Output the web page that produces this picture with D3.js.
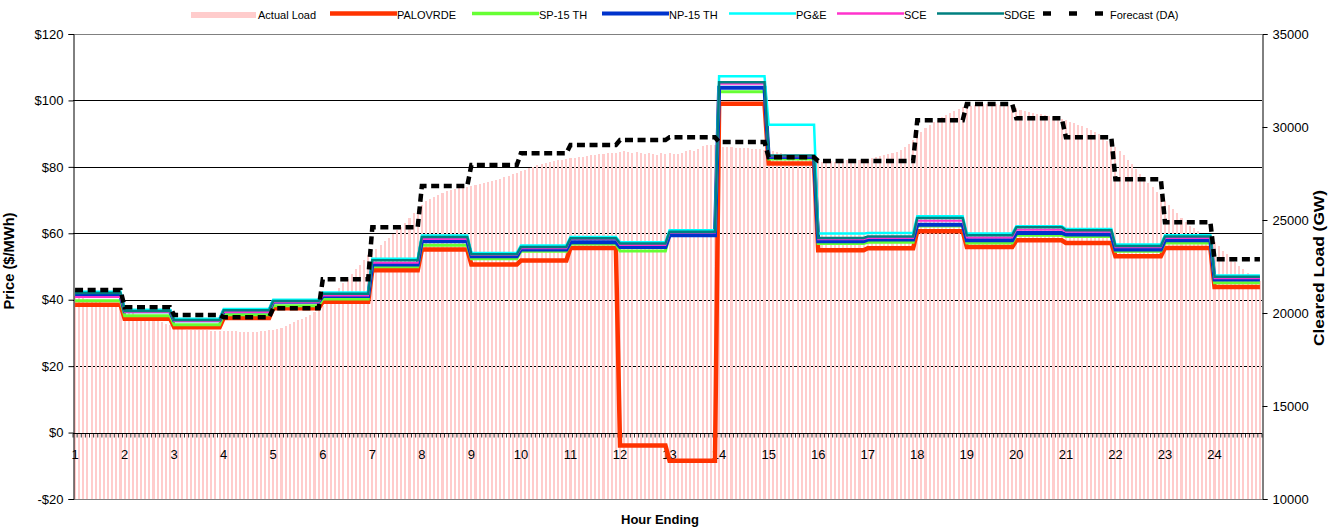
<!DOCTYPE html>
<html>
<style>
  body {
    margin: 0;
    overflow: hidden;
    background: #fff;
  }
  text {
    font-family: Arial, "Liberation Sans", sans-serif;
    fill: #000;
  }
</style>
<script src="https://d3js.org/d3.v7.min.js"></script>
<svg></svg>
<script>
// hourly prices ($/MWh), hour ending 1..24
var hours = d3.range(1, 25)

var palovrde = [38.5, 34.3, 31.7, 34.5, 37.4, 39.4, 48.9, 55.1, 50.6, 51.8, 55.6, -3.9,
                -8.5, 99.0, 81.0, 54.9, 55.5, 60.6, 55.9, 57.9, 57.1, 53.1, 55.6, 43.8]
var sp15 =     [39.7, 35.2, 32.5, 35.5, 38.2, 40.2, 49.9, 56.4, 52.3, 54.6, 56.8, 54.7,
                59.6, 102.6, 82.4, 56.9, 57.3, 62.2, 57.1, 59.4, 59.0, 54.6, 57.1, 45.1]
var np15 =     [41.3, 36.5, 33.8, 36.5, 39.4, 41.1, 50.6, 57.6, 53.1, 55.1, 57.3, 55.9,
                59.4, 103.8, 83.0, 57.6, 58.1, 62.6, 57.9, 60.1, 59.6, 55.1, 57.9, 46.1]
var pge =      [42.4, 37.0, 34.3, 37.2, 40.0, 42.2, 52.3, 59.3, 54.1, 56.3, 58.9, 57.3,
                60.9, 107.3, 92.7, 59.9, 60.1, 65.1, 59.9, 62.1, 61.3, 56.6, 59.4, 47.3]
var sce =      [40.8, 36.3, 33.6, 36.3, 39.2, 41.3, 51.1, 58.3, 53.5, 55.5, 58.3, 56.5,
                60.2, 105.0, 83.2, 58.2, 58.6, 63.8, 58.7, 61.1, 60.5, 55.8, 58.6, 46.5]
var sdge =     [42.0, 36.6, 33.9, 36.8, 39.6, 41.8, 51.9, 58.9, 53.7, 55.9, 58.5, 56.9,
                60.5, 105.5, 83.4, 58.6, 59.0, 64.6, 59.4, 61.8, 60.9, 56.2, 59.0, 46.9]

// day-ahead load forecast (hourly)
var forecast = [21240, 20310, 19890, 19770, 20250, 21810, 24610, 26830, 27960, 28590, 29030, 29300,
                29450, 29190, 28370, 28170, 28170, 30360, 31240, 30470, 29450, 27190, 24880, 22890]

// actual load, 5-minute intervals (12 per hour)
var actualLoad = [
  20900, 20850, 20800, 20750, 20700, 20650, 20600, 20550, 20500, 20450, 20400, 20350,
  20200, 20100, 20000, 19900, 19800, 19700, 19650, 19600, 19550, 19500, 19400, 19350,
  19300, 19200, 19150, 19100, 19100, 19080, 19080, 19060, 19060, 19050, 19050, 19050,
  19050, 19040, 19030, 19020, 19000, 19000, 18980, 18980, 19000, 19020, 19050, 19080,
  19100, 19150, 19200, 19300, 19400, 19500, 19600, 19700, 19800, 19900, 20050, 20200,
  20350, 20600, 20850, 21100, 21350, 21600, 21850, 22100, 22350, 22600, 22850, 23100,
  23250, 23450, 23650, 23850, 24050, 24250, 24450, 24650, 24850, 25100, 25350, 25600,
  25800, 26000, 26150, 26250, 26350, 26450, 26550, 26600, 26650, 26700, 26750, 26800,
  26850, 26900, 26950, 27000, 27050, 27100, 27150, 27200, 27300, 27350, 27450, 27550,
  27650, 27700, 27800, 27850, 27950, 28000, 28050, 28100, 28150, 28200, 28250, 28300,
  28320, 28350, 28380, 28400, 28450, 28500, 28520, 28550, 28570, 28600, 28600, 28620,
  28650, 28700, 28650, 28600, 28650, 28600, 28550, 28600, 28550, 28500, 28600, 28550,
  28600, 28550, 28550, 28600, 28700, 28750, 28700, 28800, 29000, 29050, 29050, 29050,
  29000, 28950, 28900, 28900, 28850, 28850, 28850, 28850, 28800, 28800, 28800, 28750,
  28700, 28700, 28650, 28600, 28550, 28500, 28450, 28400, 28350, 28300, 28250, 28200,
  28150, 28100, 28100, 28150, 28100, 28150, 28150, 28200, 28200, 28250, 28250, 28300,
  28300, 28350, 28400, 28450, 28500, 28550, 28600, 28650, 28750, 28900, 29100, 29300,
  29550, 29750, 29950, 30100, 30250, 30400, 30550, 30650, 30750, 30850, 30950, 31050,
  31100, 31150, 31200, 31200, 31250, 31250, 31250, 31250, 31200, 31200, 31150, 31100,
  31000, 30900, 30850, 30800, 30750, 30700, 30700, 30650, 30600, 30550, 30500, 30450,
  30350, 30250, 30200, 30100, 30050, 29950, 29850, 29750, 29600, 29450, 29250, 29050,
  28900, 28700, 28500, 28250, 28000, 27750, 27500, 27250, 27000, 26750, 26500, 26300,
  26000, 25800, 25600, 25350, 25100, 24900, 24700, 24550, 24400, 24250, 24100, 23950,
  23800, 23600, 23350, 23150, 22950, 22750, 22550, 22350, 22150, 22000, 21850, 21700
]

var priceTicks = [-20, 0, 20, 40, 60, 80, 100, 120]
var loadTicks = [10000, 15000, 20000, 25000, 30000, 35000]

var series = [
  {name: "PALOVRDE", values: palovrde, color: "#ff3300", width: 4.5},
  {name: "SP-15 TH", values: sp15, color: "#66ff33", width: 3},
  {name: "NP-15 TH", values: np15, color: "#0033cc", width: 4},
  {name: "PG&E", values: pge, color: "#00ffff", width: 2.5},
  {name: "SCE", values: sce, color: "#ff33cc", width: 2},
  {name: "SDGE", values: sdge, color: "#008080", width: 2.5}
]

var width = 1331,
    height = 529,
    plotLeft = 73,
    plotRight = 1262,
    plotTop = 34,
    plotBottom = 499;

var svg = d3.select("svg")
    .attr("width", width)
    .attr("height", height)

var slots = d3.range(actualLoad.length)
var hourOf = function(i) { return Math.floor(i / 12) }

var x = d3.scaleBand()
    .domain(slots)
    .range([plotLeft, plotRight])
    .paddingInner(0.5)
    .paddingOuter(0.25)

var step = x.step()
var cx = function(i) { return x(i) + x.bandwidth() / 2 }

var yPrice = d3.scaleLinear().domain([-20, 120]).range([plotBottom, plotTop])
var yLoad = d3.scaleLinear().domain([10000, 35000]).range([plotBottom, plotTop])

// gridlines (behind the load bars)
svg.append("g")
  .selectAll("line")
    .data(priceTicks.filter(function(d) { return d > 0 && d < 120 }))
  .enter().append("line")
    .attr("x1", plotLeft).attr("x2", plotRight)
    .attr("y1", function(d) { return Math.round(yPrice(d)) + 0.5 })
    .attr("y2", function(d) { return Math.round(yPrice(d)) + 0.5 })
    .style("stroke", "#000")
    .style("stroke-width", 1)

svg.append("line")
    .attr("x1", plotLeft).attr("x2", plotRight)
    .attr("y1", Math.round(yPrice(120)) + 0.5).attr("y2", Math.round(yPrice(120)) + 0.5)
    .style("stroke", "#808080")

svg.append("line")
    .attr("x1", plotLeft).attr("x2", plotRight)
    .attr("y1", Math.round(yPrice(-20)) + 0.5).attr("y2", Math.round(yPrice(-20)) + 0.5)
    .style("stroke", "#808080")

// actual load bars
svg.append("g")
    .attr("shape-rendering", "crispEdges")
  .selectAll("rect")
    .data(actualLoad)
  .enter().append("rect")
    .attr("x", function(d, i) { return x(i) })
    .attr("width", x.bandwidth())
    .attr("y", function(d) { return yLoad(d) })
    .attr("height", function(d) { return yLoad(10000) - yLoad(d) })
    .style("fill", "#ffcccc")

// category axis at $0
var zeroY = Math.round(yPrice(0)) + 0.5
var xAxis = svg.append("g")

xAxis.append("line")
    .attr("x1", plotLeft).attr("x2", plotRight)
    .attr("y1", zeroY).attr("y2", zeroY)
    .style("stroke", "#000")

xAxis.selectAll("line.tick")
    .data(d3.range(actualLoad.length + 1))
  .enter().append("line")
    .attr("class", "tick")
    .attr("x1", function(d) { return plotLeft + d * step })
    .attr("x2", function(d) { return plotLeft + d * step })
    .attr("y1", zeroY).attr("y2", zeroY + 4)
    .style("stroke", "#000")
    .style("stroke-width", 0.8)

xAxis.selectAll("text")
    .data(hours)
  .enter().append("text")
    .attr("x", function(d) { return cx((d - 1) * 12) })
    .attr("y", zeroY + 25)
    .attr("text-anchor", "middle")
    .style("font-size", "13px")
    .text(function(d) { return d })

// price lines
var line = d3.line()
    .x(function(d, i) { return cx(i) })
    .y(function(d) { return yPrice(d) })

series.forEach(function(s) {
  svg.append("path")
      .datum(slots.map(function(i) { return s.values[hourOf(i)] }))
      .attr("d", line)
      .style("fill", "none")
      .style("stroke", s.color)
      .style("stroke-width", s.width)
})

// forecast (secondary axis)
var loadLine = d3.line()
    .x(function(d, i) { return cx(i) })
    .y(function(d) { return yLoad(d) })

svg.append("path")
    .datum(slots.map(function(i) { return forecast[hourOf(i)] }))
    .attr("d", loadLine)
    .style("fill", "none")
    .style("stroke", "#000")
    .style("stroke-width", 4.5)
    .style("stroke-dasharray", "8,4.6")

// left and right axes
var leftAxis = svg.append("g")
    .attr("transform", "translate(" + (plotLeft + 0.5) + ",0)")
    .call(d3.axisLeft(yPrice)
      .tickValues(priceTicks)
      .tickSize(5)
      .tickPadding(5)
      .tickFormat(function(d) { return d < 0 ? "-$" + (-d) : "$" + d }))

var rightAxis = svg.append("g")
    .attr("transform", "translate(" + (plotRight + 0.5) + ",0)")
    .call(d3.axisRight(yLoad)
      .tickValues(loadTicks)
      .tickSize(5)
      .tickPadding(5)
      .tickFormat(d3.format("d")))

svg.selectAll(".domain").style("stroke", "#000")
leftAxis.selectAll("text").style("font-size", "13px").style("font-family", "Arial, 'Liberation Sans', sans-serif")
rightAxis.selectAll("text").style("font-size", "13px").style("font-family", "Arial, 'Liberation Sans', sans-serif")
svg.selectAll(".tick line").style("stroke", "#000")

// axis titles
svg.append("text")
    .attr("transform", "translate(14,261) rotate(-90)")
    .attr("text-anchor", "middle")
    .attr("textLength", 97)
    .attr("lengthAdjust", "spacingAndGlyphs")
    .style("font-size", "14px")
    .style("font-weight", "bold")
    .text("Price ($/MWh)")

svg.append("text")
    .attr("transform", "translate(1324,268) rotate(-90)")
    .attr("text-anchor", "middle")
    .attr("textLength", 156)
    .attr("lengthAdjust", "spacingAndGlyphs")
    .style("font-size", "14px")
    .style("font-weight", "bold")
    .text("Cleared Load (GW)")

svg.append("text")
    .attr("x", 660)
    .attr("y", 524)
    .attr("text-anchor", "middle")
    .style("font-size", "13px")
    .style("font-weight", "bold")
    .text("Hour Ending")

// legend
var legendItems = [
  {name: "Actual Load", type: "bar", x: 191, color: "#ffcccc"},
  {name: "PALOVRDE", type: "line", x: 330, color: "#ff3300", width: 4.5},
  {name: "SP-15 TH", type: "line", x: 472, color: "#66ff33", width: 3.5},
  {name: "NP-15 TH", type: "line", x: 602, color: "#0033cc", width: 4},
  {name: "PG&E", type: "line", x: 729, color: "#00ffff", width: 2.5},
  {name: "SCE", type: "line", x: 837, color: "#ff33cc", width: 2.5},
  {name: "SDGE", type: "line", x: 937, color: "#008080", width: 2.5},
  {name: "Forecast (DA)", type: "dash", x: 1043, color: "#000", width: 4.5}
]

var legend = svg.append("g")

legendItems.forEach(function(d) {
  var g = legend.append("g").attr("transform", "translate(" + d.x + ",0)")
  if (d.type == "bar") {
    g.append("rect")
        .attr("x", 0).attr("y", 12)
        .attr("width", 65).attr("height", 6)
        .style("fill", d.color)
    g.append("text").attr("x", 67).attr("y", 19).style("font-size", "11px").text(d.name)
  } else if (d.type == "line") {
    g.append("line")
        .attr("x1", 0).attr("x2", 67)
        .attr("y1", 13.5).attr("y2", 13.5)
        .style("stroke", d.color)
        .style("stroke-width", d.width)
    g.append("text").attr("x", 67).attr("y", 19).style("font-size", "11px").text(d.name)
  } else {
    g.append("line")
        .attr("x1", 0).attr("x2", 60)
        .attr("y1", 13.5).attr("y2", 13.5)
        .style("stroke", d.color)
        .style("stroke-width", d.width)
        .style("stroke-dasharray", "8,18")
    g.append("text").attr("x", 67).attr("y", 19).style("font-size", "11px").text(d.name)
  }
})
</script>
</html>
